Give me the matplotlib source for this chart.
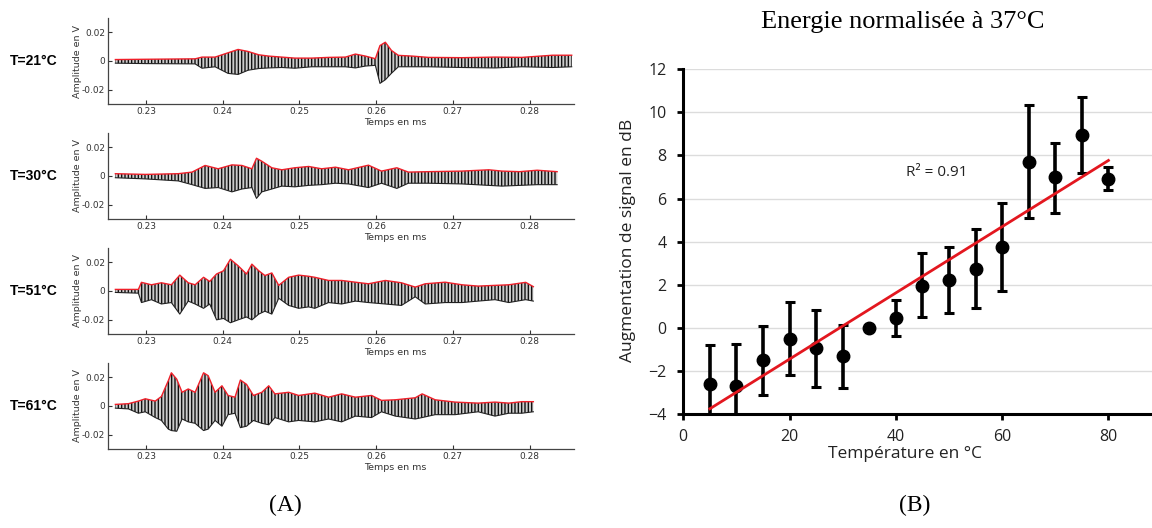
import matplotlib
matplotlib.use("Agg")
import matplotlib.pyplot as plt
import numpy as np

# ── (A) waveforms: upper (red) envelope and lower black trace ──
temps_labels = ["T=21°C", "T=30°C", "T=51°C", "T=61°C"]

t_21 = [0.2260, 0.2300, 0.2364, 0.2373, 0.2390, 0.2407, 0.2420, 0.2433, 0.2447, 0.2460,
        0.2477, 0.2494, 0.2516, 0.2538, 0.2560, 0.2573, 0.2586, 0.2599, 0.2605, 0.2612,
        0.2620, 0.2629, 0.2647, 0.2668, 0.2712, 0.2755, 0.2790, 0.2830, 0.2855]
up_21 = [0.0010, 0.0012, 0.0015, 0.0027, 0.0027, 0.0057, 0.0080, 0.0066, 0.0043, 0.0034,
         0.0027, 0.0020, 0.0020, 0.0025, 0.0027, 0.0048, 0.0034, 0.0016, 0.0107, 0.0130,
         0.0073, 0.0039, 0.0034, 0.0025, 0.0023, 0.0027, 0.0025, 0.0040, 0.0040]
lo_21 = [-0.0015, -0.0018, -0.0020, -0.0050, -0.0040, -0.0086, -0.0093, -0.0064, -0.0052, -0.0048,
         -0.0045, -0.0050, -0.0040, -0.0040, -0.0040, -0.0048, -0.0035, -0.0030, -0.0155, -0.0130,
         -0.0085, -0.0040, -0.0040, -0.0040, -0.0045, -0.0048, -0.0040, -0.0045, -0.0040]

t_30 = [0.2260, 0.2299, 0.2342, 0.2360, 0.2377, 0.2394, 0.2412, 0.2425, 0.2438, 0.2444,
        0.2451, 0.2464, 0.2477, 0.2494, 0.2512, 0.2529, 0.2547, 0.2564, 0.2590, 0.2607,
        0.2627, 0.2642, 0.2668, 0.2712, 0.2747, 0.2764, 0.2787, 0.2810, 0.2836]
up_30 = [0.0016, 0.0011, 0.0016, 0.0027, 0.0073, 0.0050, 0.0077, 0.0073, 0.0050, 0.0123,
         0.0102, 0.0057, 0.0043, 0.0057, 0.0066, 0.0050, 0.0061, 0.0043, 0.0075, 0.0034,
         0.0057, 0.0027, 0.0030, 0.0034, 0.0043, 0.0034, 0.0030, 0.0040, 0.0030]
lo_30 = [-0.0012, -0.0020, -0.0034, -0.0060, -0.0086, -0.0080, -0.0110, -0.0090, -0.0080, -0.0155,
         -0.0110, -0.0090, -0.0070, -0.0075, -0.0065, -0.0060, -0.0050, -0.0055, -0.0080, -0.0050,
         -0.0086, -0.0050, -0.0050, -0.0055, -0.0065, -0.0070, -0.0065, -0.0060, -0.0060]

t_51 = [0.2260, 0.2290, 0.2294, 0.2307, 0.2320, 0.2333, 0.2344, 0.2355, 0.2364, 0.2375,
        0.2383, 0.2392, 0.2401, 0.2410, 0.2420, 0.2431, 0.2438, 0.2447, 0.2455, 0.2464,
        0.2473, 0.2486, 0.2499, 0.2512, 0.2520, 0.2538, 0.2555, 0.2573, 0.2590, 0.2612,
        0.2633, 0.2651, 0.2664, 0.2690, 0.2712, 0.2733, 0.2755, 0.2773, 0.2795, 0.2805]
up_51 = [0.0011, 0.0011, 0.0060, 0.0043, 0.0057, 0.0043, 0.0110, 0.0057, 0.0043, 0.0095,
         0.0066, 0.0118, 0.0140, 0.0220, 0.0175, 0.0118, 0.0186, 0.0140, 0.0107, 0.0125,
         0.0039, 0.0095, 0.0110, 0.0102, 0.0095, 0.0073, 0.0073, 0.0061, 0.0050, 0.0073,
         0.0057, 0.0027, 0.0050, 0.0061, 0.0043, 0.0034, 0.0039, 0.0043, 0.0060, 0.0030]
lo_51 = [-0.0010, -0.0015, -0.0080, -0.0060, -0.0090, -0.0080, -0.0160, -0.0070, -0.0090, -0.0120,
         -0.0090, -0.0200, -0.0190, -0.0220, -0.0200, -0.0180, -0.0200, -0.0160, -0.0140, -0.0160,
         -0.0050, -0.0100, -0.0120, -0.0110, -0.0120, -0.0080, -0.0090, -0.0070, -0.0080, -0.0090,
         -0.0100, -0.0040, -0.0090, -0.0080, -0.0080, -0.0070, -0.0060, -0.0080, -0.0060, -0.0070]

t_61 = [0.2260, 0.2277, 0.2290, 0.2299, 0.2312, 0.2320, 0.2329, 0.2333, 0.2340, 0.2347,
        0.2355, 0.2364, 0.2375, 0.2381, 0.2390, 0.2399, 0.2407, 0.2416, 0.2423, 0.2431,
        0.2440, 0.2451, 0.2460, 0.2468, 0.2486, 0.2499, 0.2520, 0.2538, 0.2555, 0.2573,
        0.2594, 0.2607, 0.2625, 0.2651, 0.2660, 0.2677, 0.2703, 0.2733, 0.2755, 0.2773,
        0.2790, 0.2805]
up_61 = [0.0011, 0.0016, 0.0034, 0.0050, 0.0034, 0.0066, 0.0175, 0.0230, 0.0186, 0.0095,
         0.0118, 0.0095, 0.0230, 0.0210, 0.0095, 0.0140, 0.0073, 0.0061, 0.0180, 0.0150,
         0.0073, 0.0095, 0.0140, 0.0084, 0.0095, 0.0073, 0.0089, 0.0061, 0.0084, 0.0061,
         0.0073, 0.0039, 0.0043, 0.0057, 0.0084, 0.0043, 0.0027, 0.0020, 0.0027, 0.0020,
         0.0030, 0.0030]
lo_61 = [-0.0015, -0.0020, -0.0050, -0.0040, -0.0080, -0.0100, -0.0160, -0.0170, -0.0175, -0.0090,
         -0.0110, -0.0120, -0.0170, -0.0160, -0.0100, -0.0140, -0.0060, -0.0050, -0.0150, -0.0140,
         -0.0100, -0.0120, -0.0130, -0.0080, -0.0110, -0.0100, -0.0110, -0.0090, -0.0110, -0.0070,
         -0.0080, -0.0040, -0.0070, -0.0090, -0.0080, -0.0060, -0.0060, -0.0040, -0.0070, -0.0050,
         -0.0050, -0.0040]

wave_t = [t_21, t_30, t_51, t_61]
wave_up = [up_21, up_30, up_51, up_61]
wave_lo = [lo_21, lo_30, lo_51, lo_61]
wave_xticks = [0.23, 0.24, 0.25, 0.26, 0.27, 0.28]
wave_yticks = [-0.02, 0, 0.02]
wave_yticklabels = ["-0.02", "0", "0.02"]

# ── (B) energy vs temperature ──
temperature = [5, 10, 15, 20, 25, 30, 35, 40, 45, 50, 55, 60, 65, 70, 75, 80]
gain_db = [-2.6, -2.7, -1.5, -0.5, -0.95, -1.3, 0.0, 0.45, 1.95, 2.2, 2.75, 3.75, 7.7, 7.0, 8.95, 6.9]
gain_hi = [-0.8, -0.75, 0.1, 1.2, 0.85, 0.15, 0.0, 1.3, 3.45, 3.75, 4.6, 5.8, 10.35, 8.6, 10.7, 7.45]
gain_lo = [-4.4, -4.6, -3.1, -2.2, -2.75, -2.8, 0.0, -0.4, 0.5, 0.7, 0.9, 1.7, 5.08, 5.35, 7.2, 6.4]
b_xticks = [0, 20, 40, 60, 80]
b_yticks = [-4, -2, 0, 2, 4, 6, 8, 10, 12]

plt.rcParams["hatch.linewidth"] = 1.0

W, H = 1152, 528
fig = plt.figure(figsize=(W / 100, H / 100), dpi=100)

# ── left column ──────────────────────────────────────────────────────────────
panel_tops = [17.7, 132.7, 247.7, 362.7]
left_px, right_px, height_px = 107.7, 574.0, 86.6
for i, top in enumerate(panel_tops):
    ax = fig.add_axes([left_px / W, 1 - (top + height_px) / H,
                       (right_px - left_px) / W, height_px / H])
    t = np.array(wave_t[i])
    up = np.array(wave_up[i])
    lo = np.array(wave_lo[i])
    # grey body with dense black strokes, like the sampled oscillation
    ax.fill_between(t, lo, up, facecolor="#cccccc", edgecolor="#111111",
                    hatch="|||||", linewidth=0.0, zorder=2)
    ax.plot(t, lo, color="#222222", linewidth=0.8, zorder=2.5)
    ax.plot(t, up, color="#f0202a", linewidth=1.0, zorder=3)
    ax.set_xlim(0.2250, 0.2858)
    ax.set_ylim(-0.03, 0.03)
    ax.set_xticks(wave_xticks)
    ax.set_xticklabels([f"{v:.2f}" for v in wave_xticks])
    ax.set_yticks(wave_yticks)
    ax.set_yticklabels(wave_yticklabels)
    ax.tick_params(direction="in", length=3, width=0.8, labelsize=6.5, pad=2,
                   colors="#333333")
    for s in ["top", "right"]:
        ax.spines[s].set_visible(False)
    for s in ["left", "bottom"]:
        ax.spines[s].set_linewidth(0.9)
        ax.spines[s].set_color("#444444")
    ax.set_xlabel("Temps en ms", fontsize=6.8, color="#333333")
    ax.xaxis.set_label_coords(0.617, -0.215)
    ax.xaxis.label.set_va("center")
    ax.set_ylabel("Amplitude en V", fontsize=6.8, color="#333333")
    ax.yaxis.set_label_coords(-0.064, 0.5)
    ax.yaxis.label.set_va("center")
    fig.text(10 / W, 1 - (top + height_px / 2) / H, temps_labels[i],
             fontsize=10, fontweight="bold", ha="left", va="center",
             family="Liberation Sans")

fig.text(285 / W, 1 - 505 / H, "(A)", fontsize=17, ha="center", va="center",
         family="Liberation Serif")

# ── right panel ──────────────────────────────────────────────────────────────
axb = fig.add_axes([683.3 / W, 1 - 414 / H, (W - 683.3) / W, (414 - 69.3) / H])
x = np.array(temperature, dtype=float)
y = np.array(gain_db)
yerr = [y - np.array(gain_lo), np.array(gain_hi) - y]
for yt in b_yticks[1:]:
    axb.axhline(yt, color="#dcdcdc", linewidth=1.0, zorder=0)
axb.errorbar(x, y, yerr=yerr, fmt="o", color="black", markersize=9,
             elinewidth=2.6, capsize=3.5, capthick=2.2, zorder=3)
slope, intercept = np.polyfit(x, y, 1)
xfit = np.array([x.min(), x.max()])
axb.plot(xfit, slope * xfit + intercept, color="#e3171f", linewidth=2.0, zorder=4)
axb.text(41.9, 7.2, "R² = 0.91", fontsize=11, ha="left", va="center",
         family="Open Sans", color="#222222")

axb.set_xlim(0, 88.2)
axb.set_ylim(-4, 12)
axb.set_xticks(b_xticks)
axb.set_yticks(b_yticks)
axb.tick_params(direction="out", length=4, width=2.0, labelsize=11.5, pad=7,
                colors="black", labelcolor="#222222")
axb.tick_params(axis="y", pad=8)
for lab in axb.get_xticklabels() + axb.get_yticklabels():
    lab.set_family("Open Sans")
for s in ["top", "right"]:
    axb.spines[s].set_visible(False)
for s in ["left", "bottom"]:
    axb.spines[s].set_linewidth(2.2)
axb.set_xlabel("Température en °C", fontsize=12.5, family="Open Sans", color="#222222")
axb.xaxis.set_label_coords(0.474, -0.115)
axb.xaxis.label.set_va("center")
axb.set_ylabel("Augmentation de signal en dB", fontsize=12.5, family="Open Sans",
               color="#222222")
axb.yaxis.set_label_coords(-0.118, 0.505)
axb.yaxis.label.set_va("center")

fig.text(903 / W, 1 - 22 / H, "Energie normalisée à 37°C", fontsize=19,
         ha="center", va="center", family="Liberation Serif")
fig.text(915 / W, 1 - 505 / H, "(B)", fontsize=17, ha="center", va="center",
         family="Liberation Serif")

fig.savefig("out.png", dpi=100)
